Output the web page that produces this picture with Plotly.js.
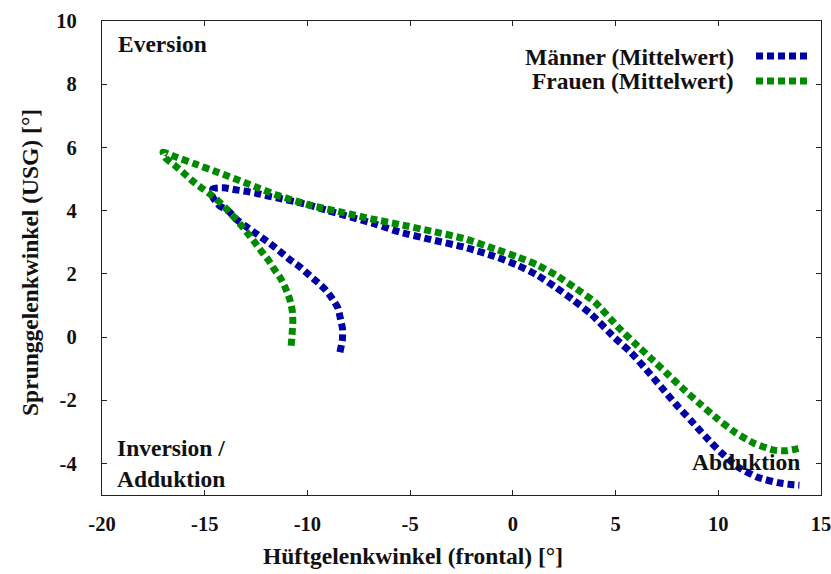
<!DOCTYPE html>
<html>
<head>
<meta charset="utf-8">
<script src="https://cdn.plot.ly/plotly-3.0.1.min.js"></script>
<style>html,body{margin:0;padding:0;background:#fff;}#chart{width:831px;height:574px;}</style>
</head>
<body>
<div id="chart"></div>
<script>
// Männer (Mittelwert)
const menX = [-8.42, -8.30, -8.29, -8.40, -8.52, -8.79, -9.13, -9.52, -9.93, -10.35, -10.80, -11.23, -11.65, -12.08, -12.54, -13.06, -13.43, -13.87, -14.29, -14.62, -14.60, -14.06, -13.51, -12.98, -12.49, -11.92, -11.44, -10.60, -9.81, -9.00, -8.19, -6.73, -5.51, -3.97, -2.35, -0.89, 0.16, 1.13, 2.03, 2.92, 3.78, 4.95, 5.76, 6.49, 7.22, 7.90, 8.65, 9.36, 10.14, 10.95, 11.92, 12.90, 13.54, 13.95];
const menY = [-0.48, -0.10, 0.24, 0.60, 0.92, 1.21, 1.50, 1.74, 1.97, 2.21, 2.42, 2.65, 2.87, 3.08, 3.29, 3.53, 3.71, 4.00, 4.16, 4.45, 4.69, 4.72, 4.66, 4.61, 4.55, 4.46, 4.40, 4.28, 4.16, 4.00, 3.85, 3.58, 3.32, 3.08, 2.84, 2.55, 2.29, 1.98, 1.60, 1.18, 0.74, -0.02, -0.50, -1.03, -1.58, -2.10, -2.63, -3.14, -3.66, -4.11, -4.44, -4.61, -4.67, -4.69];
// Frauen (Mittelwert)
const womenX = [-10.79, -10.74, -10.71, -10.74, -10.87, -11.06, -11.30, -11.63, -11.92, -12.25, -12.57, -12.90, -13.22, -13.54, -13.95, -14.36, -14.79, -15.20, -15.65, -16.06, -16.46, -16.87, -17.03, -16.46, -15.49, -14.36, -12.90, -11.44, -9.81, -8.19, -6.90, -5.51, -3.97, -2.35, -0.89, 0.24, 1.22, 2.19, 3.08, 3.98, 5.11, 5.92, 6.73, 7.51, 8.27, 9.08, 9.94, 10.78, 11.76, 12.73, 13.30, 13.87, 14.05];
const womenY = [-0.28, 0.16, 0.50, 0.84, 1.21, 1.53, 1.85, 2.16, 2.45, 2.72, 3.00, 3.27, 3.53, 3.77, 4.06, 4.32, 4.55, 4.74, 4.97, 5.21, 5.43, 5.64, 5.85, 5.71, 5.48, 5.21, 4.85, 4.48, 4.16, 3.93, 3.74, 3.56, 3.35, 3.11, 2.79, 2.53, 2.27, 1.92, 1.53, 1.11, 0.32, -0.19, -0.68, -1.16, -1.63, -2.10, -2.58, -3.00, -3.37, -3.58, -3.60, -3.53, -3.50];

const seriesNames = ['Männer (Mittelwert)', 'Frauen (Mittelwert)'];
const seriesColors = ['#0000a4', '#008a00'];
const xTicks = [-20, -15, -10, -5, 0, 5, 10, 15];
const yTicks = [-4, -2, 0, 2, 4, 6, 8, 10];

const FONT = 'Liberation Serif, Times New Roman, serif';
const DASH = '7px,4px';

// plot area in pixels
const L = 102, R = 821, T = 21, B = 495;
const px = v => (v - L) / (R - L);
const py = v => (B - v) / (B - T);

const traces = [
  {x: menX, y: menY, name: seriesNames[0], mode: 'lines', line: {color: seriesColors[0], width: 7, dash: DASH, shape: 'spline', smoothing: 0.6}},
  {x: womenX, y: womenY, name: seriesNames[1], mode: 'lines', line: {color: seriesColors[1], width: 7, dash: DASH, shape: 'spline', smoothing: 0.6}}
];

const baseFont = {family: FONT, size: 23.5, color: '#111', weight: 'bold'};
const tickFont = {family: FONT, size: 20.5, color: '#111', weight: 'bold'};

const layout = {
  width: 831, height: 574,
  margin: {l: L, r: 831 - R, t: T, b: 574 - B},
  paper_bgcolor: '#fff', plot_bgcolor: '#fff',
  showlegend: false,
  font: {family: FONT, color: '#111'},
  xaxis: {
    range: [-20, 15], tickvals: xTicks, ticktext: xTicks.map(String),
    ticks: 'inside', ticklen: 5, tickcolor: '#222', tickwidth: 1,
    showline: true, linecolor: '#222', linewidth: 1.2, mirror: 'ticks',
    showgrid: false, zeroline: false,
    tickfont: tickFont, ticklabeloverflow: 'allow',
    ticklabelstandoff: 10
  },
  yaxis: {
    range: [-5, 10], tickvals: yTicks, ticktext: yTicks.map(String),
    ticks: 'inside', ticklen: 5, tickcolor: '#222', tickwidth: 1,
    showline: true, linecolor: '#222', linewidth: 1.2, mirror: 'ticks',
    showgrid: false, zeroline: false,
    tickfont: tickFont, ticklabeloverflow: 'allow',
    ticklabelstandoff: 20
  },
  shapes: [
    {type: 'line', xref: 'paper', yref: 'paper', x0: px(756), x1: px(807), y0: py(56), y1: py(56), line: {color: seriesColors[0], width: 7, dash: DASH}},
    {type: 'line', xref: 'paper', yref: 'paper', x0: px(756), x1: px(807), y0: py(81), y1: py(81), line: {color: seriesColors[1], width: 7, dash: DASH}}
  ],
  annotations: [
    {text: seriesNames[0], xref: 'paper', yref: 'paper', x: px(736), y: py(56.7), xanchor: 'right', yanchor: 'middle', showarrow: false, font: baseFont},
    {text: seriesNames[1], xref: 'paper', yref: 'paper', x: px(736), y: py(81), xanchor: 'right', yanchor: 'middle', showarrow: false, font: baseFont},
    {text: 'Eversion', xref: 'paper', yref: 'paper', x: px(116), y: py(44.3), xanchor: 'left', yanchor: 'middle', showarrow: false, font: baseFont},
    {text: 'Inversion /<br>Adduktion', xref: 'paper', yref: 'paper', x: px(115), y: py(463), xanchor: 'left', yanchor: 'middle', align: 'left', showarrow: false, font: baseFont},
    {text: 'Abduktion', xref: 'paper', yref: 'paper', x: px(802), y: py(461.7), xanchor: 'right', yanchor: 'middle', showarrow: false, font: baseFont},
    {text: 'Hüftgelenkwinkel (frontal) [°]', xref: 'paper', yref: 'paper', x: px(412.5), y: py(556), xanchor: 'center', yanchor: 'middle', showarrow: false, font: baseFont},
    {text: 'Sprunggelenkwinkel (USG) [°]', xref: 'paper', yref: 'paper', x: px(30), y: py(263), xanchor: 'center', yanchor: 'middle', textangle: -90, showarrow: false, font: baseFont}
  ]
};

Plotly.newPlot('chart', traces, layout, {displayModeBar: false, staticPlot: true});
</script>
</body>
</html>
